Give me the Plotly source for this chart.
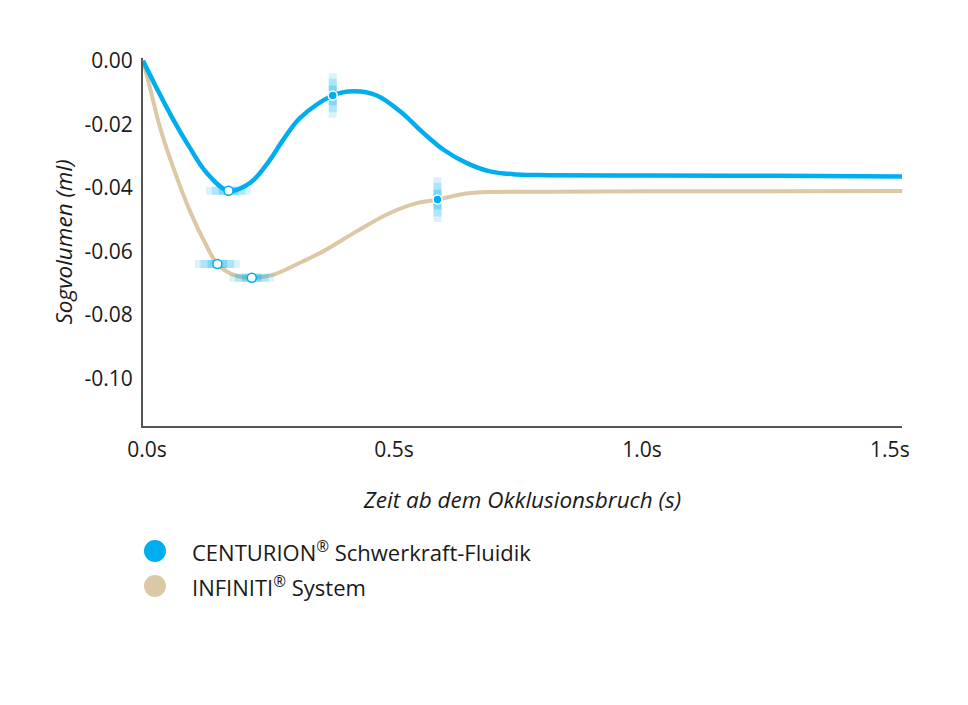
import plotly.graph_objects as go

# Zeit (s) und Sogvolumen (ml)
centurion_t = [0.0, 0.027, 0.060, 0.093, 0.126, 0.169, 0.211, 0.244, 0.277, 0.31,
               0.375, 0.416, 0.462, 0.508, 0.554, 0.594, 0.64, 0.686, 0.739,
               0.804, 1.0, 1.25, 1.5]
centurion_v = [0.0, -0.0086, -0.0186, -0.0275, -0.0353, -0.0409, -0.0385, -0.0327,
               -0.0249, -0.0180, -0.0109, -0.0096, -0.0109, -0.0159,
               -0.0227, -0.0280, -0.0322, -0.0348, -0.0358, -0.0360, -0.0361,
               -0.0362, -0.0364]

infiniti_t = [0.0, 0.014, 0.034, 0.060, 0.093, 0.126, 0.147, 0.178, 0.215, 0.258,
              0.31, 0.356, 0.422, 0.488, 0.541, 0.582, 0.633, 0.686, 0.804, 1.0,
              1.25, 1.5]
infiniti_v = [0.0, -0.0086, -0.0212, -0.0337, -0.0474, -0.0584, -0.0640, -0.0673,
              -0.0683, -0.0673, -0.0636, -0.0600, -0.0537, -0.0479, -0.0448,
              -0.0437, -0.0419, -0.0413, -0.0412, -0.0411, -0.0411, -0.0410]

# Hervorgehobene Punkte (offen = horizontaler Schein, gefuellt = vertikaler Schein)
open_pts_t = [0.169, 0.147, 0.215]
open_pts_v = [-0.0409, -0.0640, -0.0683]
filled_pts_t = [0.375, 0.582]
filled_pts_v = [-0.0109, -0.0437]

y_ticks = [0.0, -0.02, -0.04, -0.06, -0.08, -0.10]
# the original's tick labels sit slightly off the data scale
x_tick_pos = [0.008, 0.496, 0.986, 1.476]
x_tick_text = ["0.0s", "0.5s", "1.0s", "1.5s"]

legend_names = ["CENTURION<sup>®</sup> Schwerkraft-Fluidik", "INFINITI<sup>®</sup> System"]

BLUE = "#00AEEF"
BEIGE = "#DCC8A5"
TEXT = "#1a1a1a"
FONT = "Open Sans, Noto Sans, sans-serif"

fig = go.Figure()

fig.add_trace(go.Scatter(
    x=infiniti_t, y=infiniti_v, mode="lines",
    line=dict(color=BEIGE, width=4, shape="spline", smoothing=1.0),
    showlegend=False, hoverinfo="skip",
))
fig.add_trace(go.Scatter(
    x=centurion_t, y=centurion_v, mode="lines",
    line=dict(color=BLUE, width=4.5, shape="spline", smoothing=1.0),
    showlegend=False, hoverinfo="skip",
))

# Glow halos around the highlighted points
for op, sz, w in [(0.15, 32, 8), (0.2, 24, 8), (0.28, 14, 8)]:
    halo = f"rgba(0,174,239,{op})"
    fig.add_trace(go.Scatter(
        x=open_pts_t, y=open_pts_v, mode="markers",
        marker=dict(symbol="line-ew-open", size=sz, color=halo,
                    line=dict(color=halo, width=w)),
        showlegend=False, hoverinfo="skip",
    ))
    fig.add_trace(go.Scatter(
        x=filled_pts_t, y=filled_pts_v, mode="markers",
        marker=dict(symbol="line-ns-open", size=sz, color=halo,
                    line=dict(color=halo, width=w)),
        showlegend=False, hoverinfo="skip",
    ))

fig.add_trace(go.Scatter(
    x=open_pts_t, y=open_pts_v, mode="markers",
    marker=dict(size=9, color="white", line=dict(color=BLUE, width=1.5)),
    showlegend=False,
))
fig.add_trace(go.Scatter(
    x=filled_pts_t, y=filled_pts_v, mode="markers",
    marker=dict(size=9, color=BLUE, line=dict(color="white", width=1.5)),
    showlegend=False,
))

# Manual legend: dots + labels below the plot
legend_colors = [BLUE, BEIGE]
legend_y = [-0.3397, -0.4348]
for name, col, ly in zip(legend_names, legend_colors, legend_y):
    fig.add_shape(
        type="circle", xref="paper", yref="paper",
        xsizemode="pixel", ysizemode="pixel",
        xanchor=0.0158, yanchor=ly, x0=-11, x1=11, y0=-11, y1=11,
        fillcolor=col, line=dict(width=0),
    )
    fig.add_annotation(
        text=name, xref="paper", yref="paper", x=0.0619, y=ly,
        xanchor="left", yanchor="middle", showarrow=False,
        font=dict(family=FONT, size=22, color=TEXT),
    )

title_font = dict(family=FONT, size=22.5, color=TEXT)

fig.update_layout(
    width=968, height=705,
    margin=dict(l=135, r=74, t=50, b=287),
    paper_bgcolor="white", plot_bgcolor="white",
    font=dict(family=FONT, size=21, color=TEXT),
    showlegend=False,
)
fig.update_xaxes(
    range=[0, 1.5], tickvals=x_tick_pos, ticktext=x_tick_text,
    showgrid=False, zeroline=False, showline=True, linecolor="#555", linewidth=2,
    ticks="", ticklabelstandoff=4,
    title=dict(text="<i>Zeit ab dem Okklusionsbruch (s)</i>", standoff=30,
               font=title_font),
)
fig.update_yaxes(
    range=[-0.115, 0.0009], tickvals=y_ticks,
    ticktext=[f"{v:.2f}" for v in y_ticks],
    showgrid=False, zeroline=False, showline=True, linecolor="#555", linewidth=2,
    ticks="", ticklabelstandoff=4,
    title=dict(text="<i>Sogvolumen (ml)</i>", standoff=6, font=title_font),
)

fig.write_html("out.html")
